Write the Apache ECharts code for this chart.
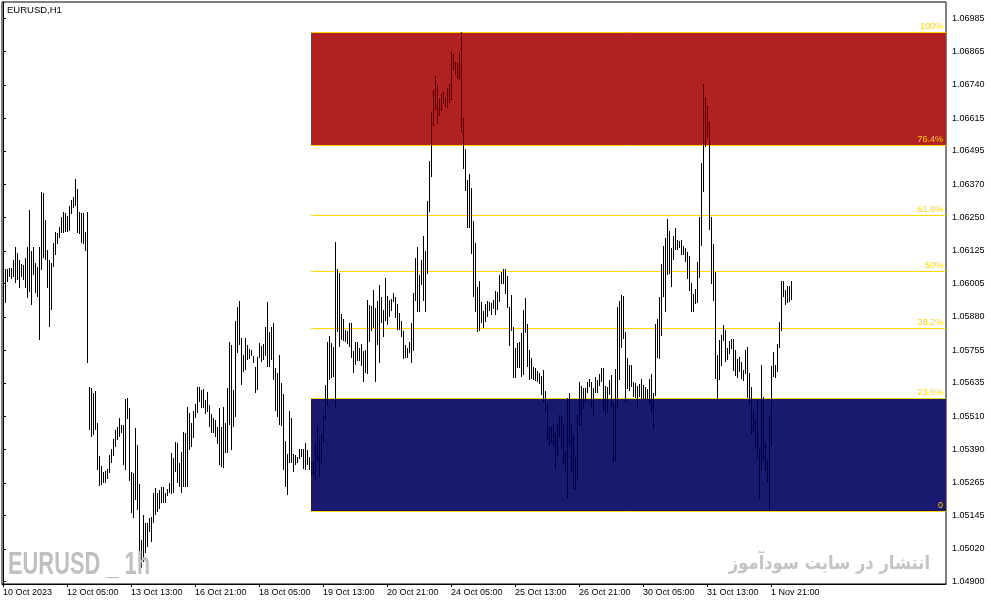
<!DOCTYPE html>
<html><head><meta charset="utf-8">
<script src="https://cdn.jsdelivr.net/npm/echarts@6/dist/echarts.min.js"></script>
<style>html,body{margin:0;padding:0;background:#fff}#c{width:991px;height:605px}</style>
</head><body><div id="c"></div>
<script>
const symbolTitle = 'EURUSD,H1';
const watermark = 'EURUSD _ 1h';
const publisher = 'انتشار در سایت سودآموز';
const dateLabels = ['10 Oct 2023','12 Oct 05:00','13 Oct 13:00','16 Oct 21:00','18 Oct 05:00','19 Oct 13:00','20 Oct 21:00','24 Oct 05:00','25 Oct 13:00','26 Oct 21:00','30 Oct 05:00','31 Oct 13:00','1 Nov 21:00'];
const dateLabelBars = [0,32,64,96,128,160,192,224,256,288,320,352,384];
const priceTicks = ['1.04900','1.05020','1.05145','1.05265','1.05390','1.05510','1.05635','1.05755','1.05880','1.06005','1.06125','1.06250','1.06370','1.06495','1.06615','1.06740','1.06865','1.06985'];
const highs = [
1.06003,1.06058,1.06058,1.06062,1.06062,1.06092,1.06140,1.06118,1.06092,1.06077,
1.06073,1.06099,1.06140,1.06277,1.06125,1.06140,1.06081,1.06066,1.06140,1.06344,
1.06340,1.06240,1.06129,1.06092,1.06081,1.06155,1.06195,1.06192,1.06214,1.06251,
1.06270,1.06266,1.06255,1.06292,1.06314,1.06325,1.06392,1.06355,1.06270,1.06266,
1.06266,1.06195,1.06270,1.05621,1.05617,1.05599,1.05606,1.05488,1.05366,1.05328,
1.05306,1.05310,1.05317,1.05369,1.05391,1.05428,1.05462,1.05473,1.05506,1.05480,
1.05480,1.05577,1.05580,1.05543,1.05306,1.05302,1.05469,1.05406,1.05262,1.05054,
1.05147,1.05117,1.05117,1.05136,1.05140,1.05228,1.05247,1.05228,1.05240,1.05251,
1.05251,1.05228,1.05243,1.05265,1.05377,1.05358,1.05417,1.05414,1.05340,1.05380,
1.05454,1.05451,1.05547,1.05525,1.05488,1.05532,1.05558,1.05621,1.05621,1.05610,
1.05614,1.05573,1.05603,1.05555,1.05521,1.05506,1.05499,1.05473,1.05543,1.05473,
1.05547,1.05488,1.05617,1.05788,1.05777,1.05610,1.05866,1.05918,1.05940,1.05803,
1.05740,1.05803,1.05777,1.05762,1.05758,1.05736,1.05695,1.05732,1.05784,1.05773,
1.05781,1.05844,1.05936,1.05825,1.05844,1.05858,1.05692,1.05673,1.05740,1.05636,
1.05595,1.05421,1.05373,1.05532,1.05506,1.05373,1.05369,1.05362,1.05391,1.05391,
1.05391,1.05414,1.05388,1.05362,1.05343,1.05343,1.05414,1.05477,1.05428,1.05447,
1.05517,1.05629,1.05788,1.05810,1.05784,1.05769,1.06158,1.06058,1.06044,1.05892,
1.05873,1.05832,1.05829,1.05858,1.05858,1.05755,1.05788,1.05788,1.05766,1.05781,
1.05755,1.05758,1.05944,1.05925,1.05921,1.05981,1.05914,1.05940,1.05999,1.05955,
1.05906,1.06025,1.05958,1.05944,1.05947,1.05969,1.05955,1.05929,1.05895,1.05866,
1.05829,1.05777,1.05766,1.05788,1.05858,1.05969,1.06099,1.06140,1.06036,1.06092,
1.06181,1.06125,1.06310,1.06458,1.06640,1.06722,1.06773,1.06740,1.06688,1.06707,
1.06714,1.06696,1.06729,1.06744,1.06862,1.06855,1.06825,1.06822,1.06859,1.06936,
1.06618,1.06503,1.06388,1.06410,1.06359,1.06236,1.06155,1.05992,1.06014,1.05936,
1.05903,1.05929,1.05940,1.05936,1.05932,1.05944,1.05977,1.05973,1.06036,1.06047,
1.06058,1.06058,1.06032,1.05918,1.05962,1.05844,1.05766,1.05784,1.05788,1.05821,
1.05906,1.05951,1.05855,1.05758,1.05729,1.05695,1.05692,1.05680,1.05673,1.05662,
1.05684,1.05606,1.05555,1.05473,1.05473,1.05484,1.05451,1.05488,1.05517,1.05514,
1.05484,1.05384,1.05580,1.05599,1.05480,1.05443,1.05362,1.05517,1.05640,1.05625,
1.05617,1.05617,1.05640,1.05651,1.05640,1.05617,1.05658,1.05647,1.05669,1.05692,
1.05692,1.05625,1.05621,1.05647,1.05666,1.05562,1.05688,1.05918,1.05940,1.05962,
1.05958,1.05825,1.05729,1.05703,1.05703,1.05640,1.05636,1.05625,1.05632,1.05651,
1.05629,1.05621,1.05614,1.05651,1.05669,1.05599,1.05855,1.05873,1.05955,1.06077,
1.06144,1.06173,1.06244,1.06199,1.06136,1.06181,1.06210,1.06166,1.06162,1.06166,
1.06144,1.06136,1.06121,1.06107,1.06006,1.05966,1.05984,1.06084,1.06251,1.06451,
1.06744,1.06696,1.06662,1.06603,1.06251,1.06151,1.06047,1.05740,1.05795,1.05814,
1.05851,1.05832,1.05766,1.05792,1.05799,1.05799,1.05758,1.05725,1.05732,1.05714,
1.05684,1.05758,1.05769,1.05673,1.05621,1.05532,1.05503,1.05569,1.05391,1.05703,
1.05584,1.05414,1.05351,1.05517,1.05699,1.05751,1.05703,1.05781,1.05862,1.06014,
1.06014,1.05981,1.05995,1.05995,1.06014
];
const lows = [
1.05918,1.05932,1.06010,1.06029,1.06021,1.06029,1.06006,1.06018,1.05988,1.06029,
1.06018,1.05988,1.05951,1.05973,1.05925,1.06036,1.05969,1.05955,1.05795,1.06055,
1.06099,1.06092,1.05988,1.05844,1.05906,1.06066,1.06110,1.06151,1.06173,1.06192,
1.06192,1.06195,1.06195,1.06199,1.06262,1.06284,1.06292,1.06192,1.06188,1.06155,
1.06151,1.06125,1.05710,1.05462,1.05436,1.05443,1.05462,1.05314,1.05254,1.05258,
1.05265,1.05265,1.05280,1.05302,1.05340,1.05366,1.05399,1.05425,1.05436,1.05451,
1.05332,1.05314,1.05503,1.05273,1.05154,1.05136,1.05203,1.05165,1.04951,1.04951,
1.04973,1.05006,1.05028,1.05084,1.05047,1.05117,1.05147,1.05158,1.05169,1.05191,
1.05191,1.05191,1.05217,1.05228,1.05225,1.05228,1.05306,1.05265,1.05251,1.05228,
1.05251,1.05251,1.05251,1.05388,1.05399,1.05432,1.05506,1.05525,1.05566,1.05543,
1.05543,1.05521,1.05529,1.05473,1.05451,1.05451,1.05436,1.05410,1.05332,1.05325,
1.05321,1.05377,1.05377,1.05480,1.05388,1.05473,1.05510,1.05747,1.05777,1.05629,
1.05677,1.05684,1.05721,1.05725,1.05736,1.05710,1.05599,1.05610,1.05729,1.05714,
1.05721,1.05736,1.05695,1.05695,1.05721,1.05647,1.05532,1.05510,1.05480,1.05477,
1.05314,1.05251,1.05221,1.05340,1.05340,1.05306,1.05332,1.05340,1.05354,1.05362,
1.05317,1.05314,1.05332,1.05314,1.05291,1.05291,1.05273,1.05347,1.05288,1.05340,
1.05417,1.05499,1.05551,1.05647,1.05655,1.05658,1.05547,1.05825,1.05769,1.05795,
1.05792,1.05788,1.05781,1.05769,1.05729,1.05673,1.05703,1.05718,1.05718,1.05699,
1.05640,1.05673,1.05669,1.05788,1.05829,1.05840,1.05640,1.05777,1.05710,1.05858,
1.05806,1.05866,1.05851,1.05881,1.05903,1.05936,1.05877,1.05832,1.05832,1.05806,
1.05725,1.05729,1.05729,1.05747,1.05710,1.05755,1.05940,1.05899,1.05899,1.05999,
1.05940,1.05899,1.06040,1.06270,1.06399,1.06588,1.06647,1.06596,1.06625,1.06644,
1.06670,1.06659,1.06655,1.06673,1.06685,1.06796,1.06777,1.06762,1.06759,1.06566,
1.06429,1.06347,1.06210,1.06210,1.06114,1.05955,1.05899,1.05825,1.05829,1.05858,
1.05840,1.05862,1.05881,1.05903,1.05888,1.05910,1.05888,1.05906,1.05936,1.06003,
1.06003,1.05966,1.05914,1.05773,1.05829,1.05655,1.05655,1.05692,1.05692,1.05658,
1.05666,1.05821,1.05695,1.05647,1.05651,1.05647,1.05643,1.05640,1.05632,1.05592,
1.05566,1.05529,1.05425,1.05403,1.05414,1.05403,1.05317,1.05369,1.05436,1.05391,
1.05340,1.05302,1.05210,1.05406,1.05302,1.05243,1.05240,1.05273,1.05480,1.05477,
1.05540,1.05566,1.05599,1.05621,1.05543,1.05514,1.05599,1.05599,1.05625,1.05640,
1.05536,1.05510,1.05529,1.05592,1.05547,1.05343,1.05347,1.05543,1.05647,1.05766,
1.05799,1.05566,1.05614,1.05606,1.05621,1.05584,1.05580,1.05543,1.05584,1.05577,
1.05577,1.05573,1.05573,1.05558,1.05525,1.05466,1.05588,1.05729,1.05725,1.05810,
1.05955,1.05899,1.06036,1.06040,1.05992,1.06092,1.06129,1.06129,1.06136,1.06110,
1.06110,1.06084,1.06021,1.05977,1.05899,1.05899,1.05929,1.05932,1.06025,1.06144,
1.06344,1.06510,1.06544,1.06203,1.06003,1.05940,1.05651,1.05569,1.05647,1.05699,
1.05792,1.05714,1.05721,1.05743,1.05762,1.05680,1.05662,1.05655,1.05677,1.05651,
1.05643,1.05669,1.05580,1.05562,1.05447,1.05451,1.05399,1.05358,1.05206,1.05310,
1.05347,1.05310,1.05269,1.05162,1.05403,1.05658,1.05655,1.05677,1.05766,1.05829,
1.05955,1.05925,1.05932,1.05936,1.05944
];
const fibHigh = 1.06936;
const fibLow = 1.05162;
const fibRatios = [0, 0.236, 0.382, 0.5, 0.618, 0.764, 1];
const fibLabels = ['0', '23.6%', '38.2%', '50%', '61.8%', '76.4%', '100%'];
const fibStartBar = 154;

const X_MIN = -0.5, X_MAX = 471.5;
const Y_MIN = 1.04890, Y_MAX = 1.07047;

const barData = highs.map((h, i) => [i, lows[i], h]);
const fibPrices = fibRatios.map(r => fibLow + r * (fibHigh - fibLow));

const chart = echarts.init(document.getElementById('c'), null, {renderer: 'canvas'});
const baseFont = 'Liberation Sans, Arial, sans-serif';

chart.setOption({
  animation: false,
  backgroundColor: '#ffffff',
  grid: {left: 2, right: 45, top: 2, bottom: 21, show: true, borderColor: '#000', borderWidth: 1, containLabel: false},
  xAxis: {
    type: 'value', min: X_MIN, max: X_MAX,
    axisLine: {show: true, lineStyle: {color: '#000', width: 1}},
    axisTick: {show: true, length: 3, inside: false, customValues: dateLabelBars, lineStyle: {color: '#000'}},
    axisLabel: {
      show: true, customValues: dateLabelBars, align: 'left', margin: 4,
      fontSize: 9, fontFamily: baseFont, color: '#000',
      formatter: v => { const k = dateLabelBars.indexOf(Math.round(v)); return k >= 0 ? dateLabels[k] : ''; }
    },
    splitLine: {show: false}
  },
  yAxis: {
    type: 'value', position: 'right', min: Y_MIN, max: Y_MAX, scale: true,
    axisLine: {show: true, lineStyle: {color: '#000', width: 1}},
    axisTick: {show: true, length: 3, inside: false, customValues: priceTicks.map(Number), lineStyle: {color: '#000'}},
    axisLabel: {
      show: true, customValues: priceTicks.map(Number), margin: 6,
      fontSize: 9, fontFamily: baseFont, color: '#000',
      formatter: v => v.toFixed(5)
    },
    splitLine: {show: false}
  },
  graphic: [
    {type: 'text', left: 7, top: 5, z: 100, style: {text: symbolTitle, font: '9.5px ' + baseFont, fill: '#000'}},
    {type: 'text', x: 8, y: 565, scaleX: 0.705, z: 100, style: {text: watermark, font: 'bold 31px ' + baseFont, fill: '#C0C0C0', verticalAlign: 'middle', align: 'left'}},
    {type: 'text', x: 930, y: 564, scaleX: 0.86, z: 100, style: {text: publisher, font: 'bold 19px DejaVu Sans, sans-serif', fill: '#C4C4C4', verticalAlign: 'middle', align: 'right'}}
  ],
  series: [
    {
      type: 'custom', name: 'fibo', z: 1, silent: true,
      data: [[fibStartBar, fibLow]],
      encode: {x: 0, y: 1},
      renderItem: (params, api) => {
        const xs = Math.round(api.coord([fibStartBar, fibLow])[0]);
        const xe = Math.round(api.coord([X_MAX, fibLow])[0]);
        const ys = fibPrices.map(p => Math.round(api.coord([fibStartBar, p])[1]));
        const children = [];
        children.push({type: 'rect', shape: {x: xs, y: ys[6], width: xe - xs, height: ys[5] - ys[6]}, style: {fill: '#B22222'}});
        children.push({type: 'rect', shape: {x: xs, y: ys[1], width: xe - xs, height: ys[0] - ys[1]}, style: {fill: '#191970'}});
        ys.forEach((y, k) => {
          children.push({type: 'line', shape: {x1: xs, y1: y + 0.5, x2: xe, y2: y + 0.5}, style: {stroke: '#FFD700', lineWidth: 1}});
          children.push({type: 'text', x: xe - 3, y: y - 1, style: {text: fibLabels[k], fill: '#FFD700', font: '9px ' + baseFont, align: 'right', verticalAlign: 'bottom'}});
        });
        return {type: 'group', children};
      }
    },
    {
      type: 'custom', name: 'EURUSD', z: 5, silent: true,
      data: barData,
      encode: {x: 0, y: [1, 2]},
      renderItem: (params, api) => {
        const i = api.value(0);
        const lo = api.coord([i, api.value(1)]);
        const hi = api.coord([i, api.value(2)]);
        const x = Math.round(lo[0]) + 0.5;
        let y1 = Math.round(lo[1]);
        let y2 = Math.round(hi[1]);
        if (y1 - y2 < 1) y2 = y1 - 1;
        return {type: 'line', shape: {x1: x, y1: y1, x2: x, y2: y2}, style: {stroke: '#000', lineWidth: 1}};
      }
    }
  ]
});
</script>
</body></html>
